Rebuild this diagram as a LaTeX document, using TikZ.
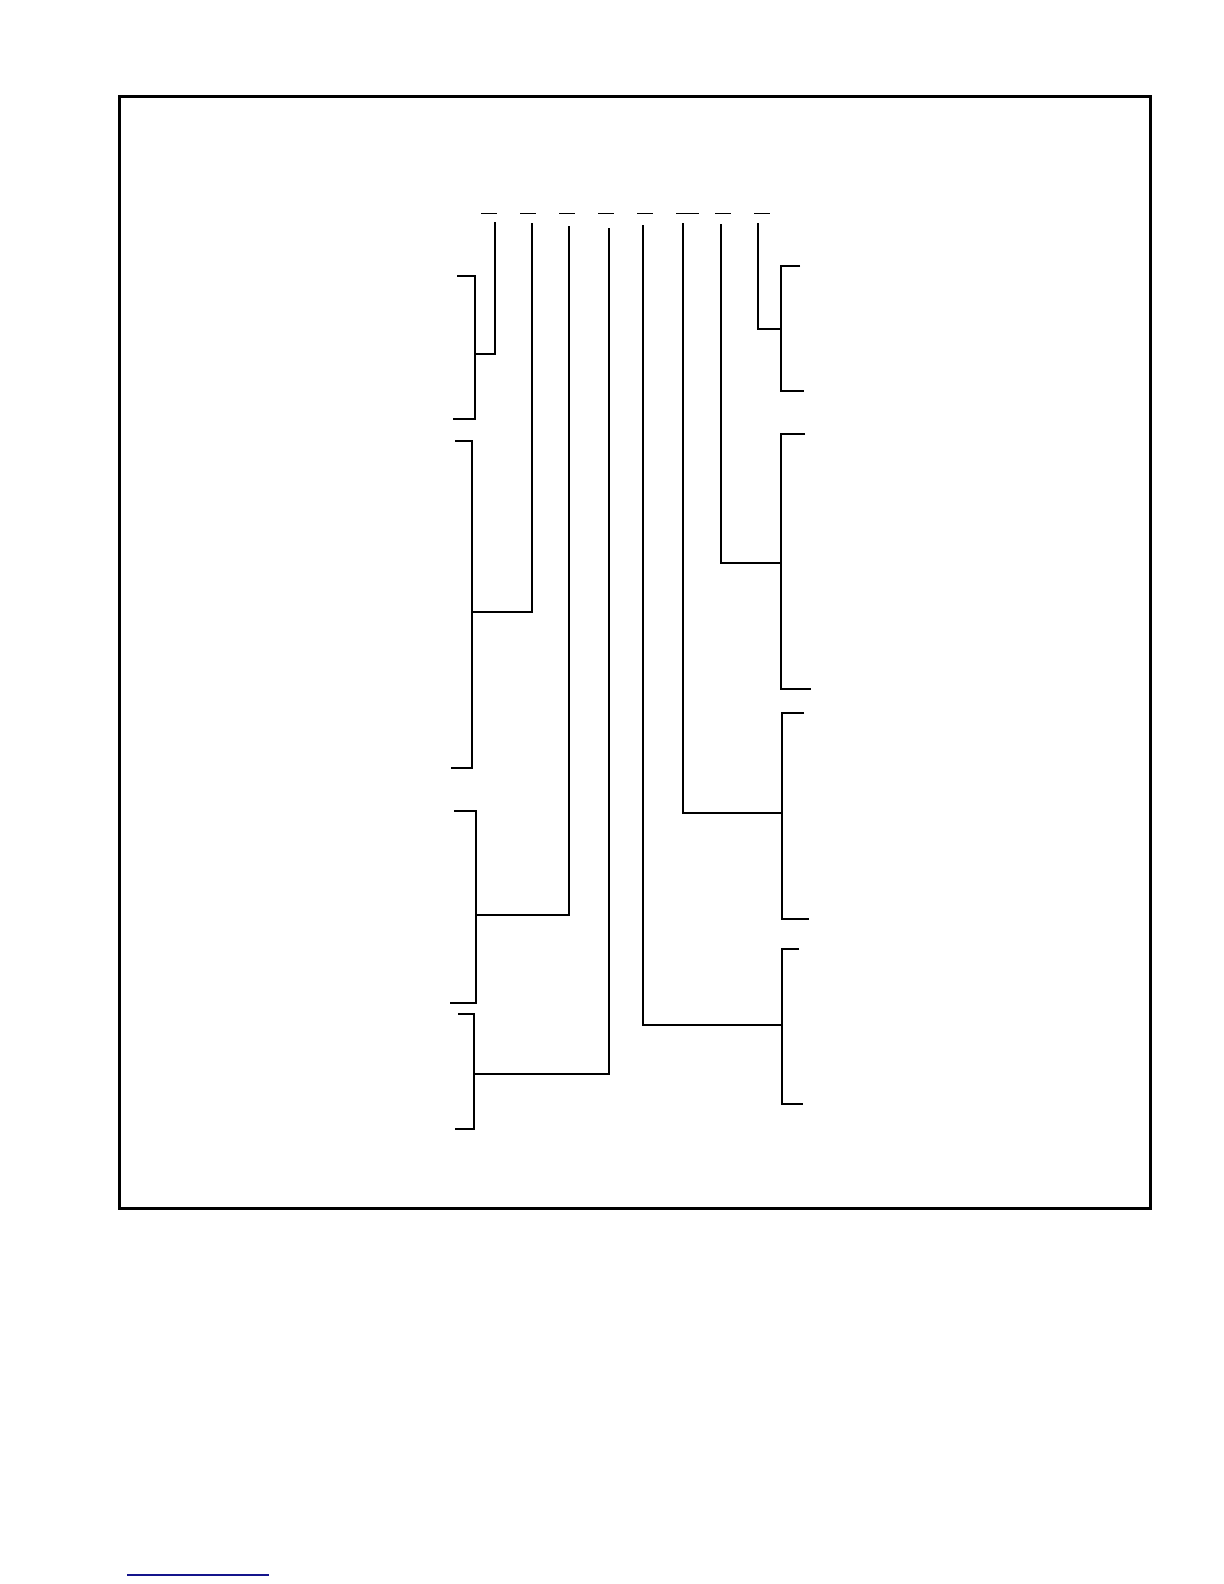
\documentclass[tikz,border=0pt]{standalone}
\usepackage{tikz}
\begin{document}
\begin{tikzpicture}[x=0.5pt,y=-0.5pt,
  frameline/.style={line width=1.5pt,black},
  treeline/.style={line width=1.1pt,black},
  blankline/.style={line width=0.5pt,black},
  footline/.style={line width=0.8pt,color={rgb,255:red,20;green,20;blue,140}}]
\useasboundingbox (0,0) rectangle (1224,1584);
\fill[white] (0,0) rectangle (1224,1584);
% frame
\coordinate (fa) at (119,97);
\coordinate (fb) at (1150,1208);
\draw[frameline] (fa) rectangle (fb);
% blanks at top
\foreach \xa/\xb [count=\i] in {481/497,520/536,559/575,598/614,637/653,676/699,715/731,754/770}{
  \coordinate (ba\i) at (\xa,213);
  \coordinate (bb\i) at (\xb,213);
  \draw[blankline] (ba\i) -- (bb\i);
}
% left bracket 1
\coordinate (v1t) at (495,222); \coordinate (v1j) at (495,354);
\coordinate (L1t) at (475,276); \coordinate (L1b) at (475,419); \coordinate (L1j) at (475,354);
\coordinate (L1ta) at (457,276); \coordinate (L1ba) at (453,419);
\draw[treeline] (v1t) -- (v1j) -- (L1j);
\draw[treeline] (L1ta) -- (L1t) -- (L1b) -- (L1ba);
% left bracket 2
\coordinate (v2t) at (532,223); \coordinate (v2j) at (532,612);
\coordinate (L2t) at (472,441); \coordinate (L2b) at (472,768); \coordinate (L2j) at (472,612);
\coordinate (L2ta) at (455,441); \coordinate (L2ba) at (451,768);
\draw[treeline] (v2t) -- (v2j) -- (L2j);
\draw[treeline] (L2ta) -- (L2t) -- (L2b) -- (L2ba);
% left bracket 3
\coordinate (v3t) at (569,226); \coordinate (v3j) at (569,915);
\coordinate (L3t) at (476,811); \coordinate (L3b) at (476,1003); \coordinate (L3j) at (476,915);
\coordinate (L3ta) at (454,811); \coordinate (L3ba) at (450,1003);
\draw[treeline] (v3t) -- (v3j) -- (L3j);
\draw[treeline] (L3ta) -- (L3t) -- (L3b) -- (L3ba);
% left bracket 4
\coordinate (v4t) at (609,228); \coordinate (v4j) at (609,1074);
\coordinate (L4t) at (474,1014); \coordinate (L4b) at (474,1129); \coordinate (L4j) at (474,1074);
\coordinate (L4ta) at (458,1014); \coordinate (L4ba) at (455,1129);
\draw[treeline] (v4t) -- (v4j) -- (L4j);
\draw[treeline] (L4ta) -- (L4t) -- (L4b) -- (L4ba);
% right bracket 4 (vertical 5)
\coordinate (v5t) at (643,225); \coordinate (v5j) at (643,1025);
\coordinate (R4t) at (782,949); \coordinate (R4b) at (782,1104); \coordinate (R4j) at (782,1025);
\coordinate (R4ta) at (799,949); \coordinate (R4ba) at (803,1104);
\draw[treeline] (v5t) -- (v5j) -- (R4j);
\draw[treeline] (R4ta) -- (R4t) -- (R4b) -- (R4ba);
% right bracket 3 (vertical 6)
\coordinate (v6t) at (683,223); \coordinate (v6j) at (683,813);
\coordinate (R3t) at (782,713); \coordinate (R3b) at (782,919); \coordinate (R3j) at (782,813);
\coordinate (R3ta) at (804,713); \coordinate (R3ba) at (809,919);
\draw[treeline] (v6t) -- (v6j) -- (R3j);
\draw[treeline] (R3ta) -- (R3t) -- (R3b) -- (R3ba);
% right bracket 2 (vertical 7)
\coordinate (v7t) at (721,224); \coordinate (v7j) at (721,563);
\coordinate (R2t) at (781,434); \coordinate (R2b) at (781,689); \coordinate (R2j) at (781,563);
\coordinate (R2ta) at (805,434); \coordinate (R2ba) at (811,689);
\draw[treeline] (v7t) -- (v7j) -- (R2j);
\draw[treeline] (R2ta) -- (R2t) -- (R2b) -- (R2ba);
% right bracket 1 (vertical 8)
\coordinate (v8t) at (758,223); \coordinate (v8j) at (758,329);
\coordinate (R1t) at (781,266); \coordinate (R1b) at (781,391); \coordinate (R1j) at (781,329);
\coordinate (R1ta) at (800,266); \coordinate (R1ba) at (804,391);
\draw[treeline] (v8t) -- (v8j) -- (R1j);
\draw[treeline] (R1ta) -- (R1t) -- (R1b) -- (R1ba);
% footnote rule
\coordinate (fl) at (127,1575); \coordinate (fr) at (269,1575);
\draw[footline] (fl) -- (fr);
\end{tikzpicture}
\end{document}
